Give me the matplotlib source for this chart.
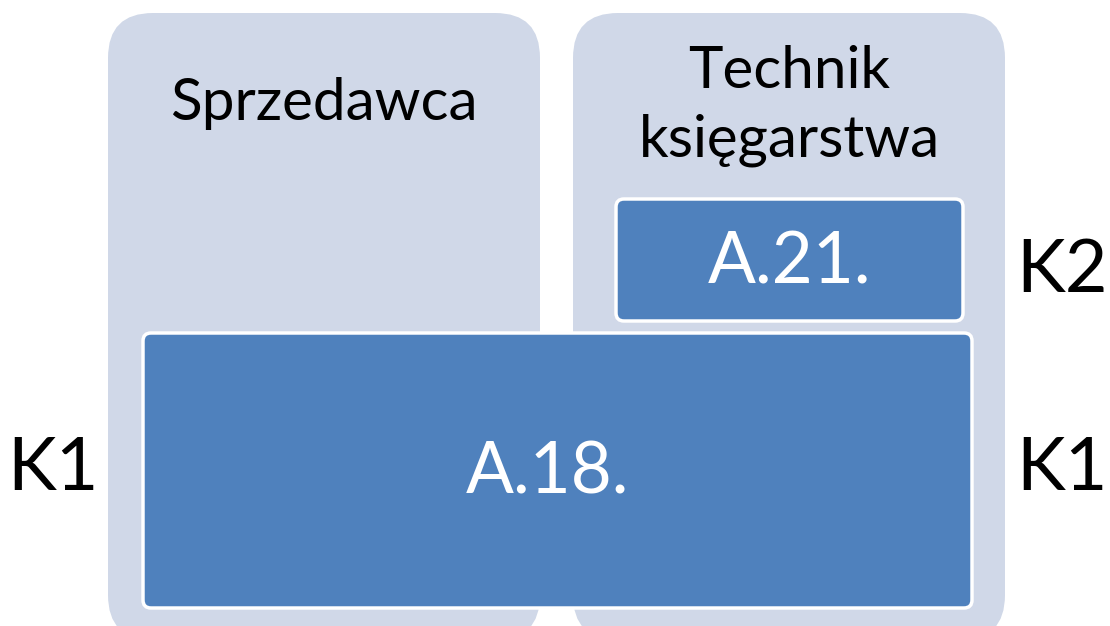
import matplotlib.pyplot as plt
from matplotlib.patches import FancyBboxPatch

# labels of the diagram
columns = ['Sprzedawca', 'Technik\nksięgarstwa']
modules = ['A.18.', 'A.21.']
levels_left = ['K1']
levels_right = ['K2', 'K1']

plt.rcParams['font.family'] = ['Lato', 'DejaVu Sans']

fig = plt.figure(figsize=(11.1, 6.26), dpi=100)
ax = fig.add_axes([0, 0, 1, 1])
ax.set_xlim(0, 1110)
ax.set_ylim(626, 0)
ax.axis('off')

col_color = '#D0D8E8'
box_color = '#4F81BD'

# columns (x, width)
col_pos = [(108, 432), (573, 432)]
for (x, w), name in zip(col_pos, columns):
    ax.add_patch(FancyBboxPatch((x, 13), w, 627, boxstyle='round,pad=0,rounding_size=45',
                                fc=col_color, ec='none'))
    ty = 103 if '\n' not in name else 106
    ax.text(x + w / 2, ty, name, ha='center', va='center', fontsize=42,
            color='black', linespacing=1.35)

# module boxes (x, y, w, h)
box_pos = [(143, 333, 829, 275), (616, 199, 347, 122)]
shift = [-10, 0]
for (x, y, w, h), name, dx in zip(box_pos, modules, shift):
    ax.add_patch(FancyBboxPatch((x, y), w, h, boxstyle='round,pad=0,rounding_size=8',
                                fc=box_color, ec='white', lw=2.5))
    ax.text(x + w / 2 + dx, y + h / 2 + 3, name, ha='center', va='center',
            fontsize=51, color='white')

ax.text(53, 470, levels_left[0], ha='center', va='center', fontsize=53)
ax.text(1062, 272, levels_right[0], ha='center', va='center', fontsize=53)
ax.text(1062, 470, levels_right[1], ha='center', va='center', fontsize=53)

fig.savefig('out.png', dpi=100)
